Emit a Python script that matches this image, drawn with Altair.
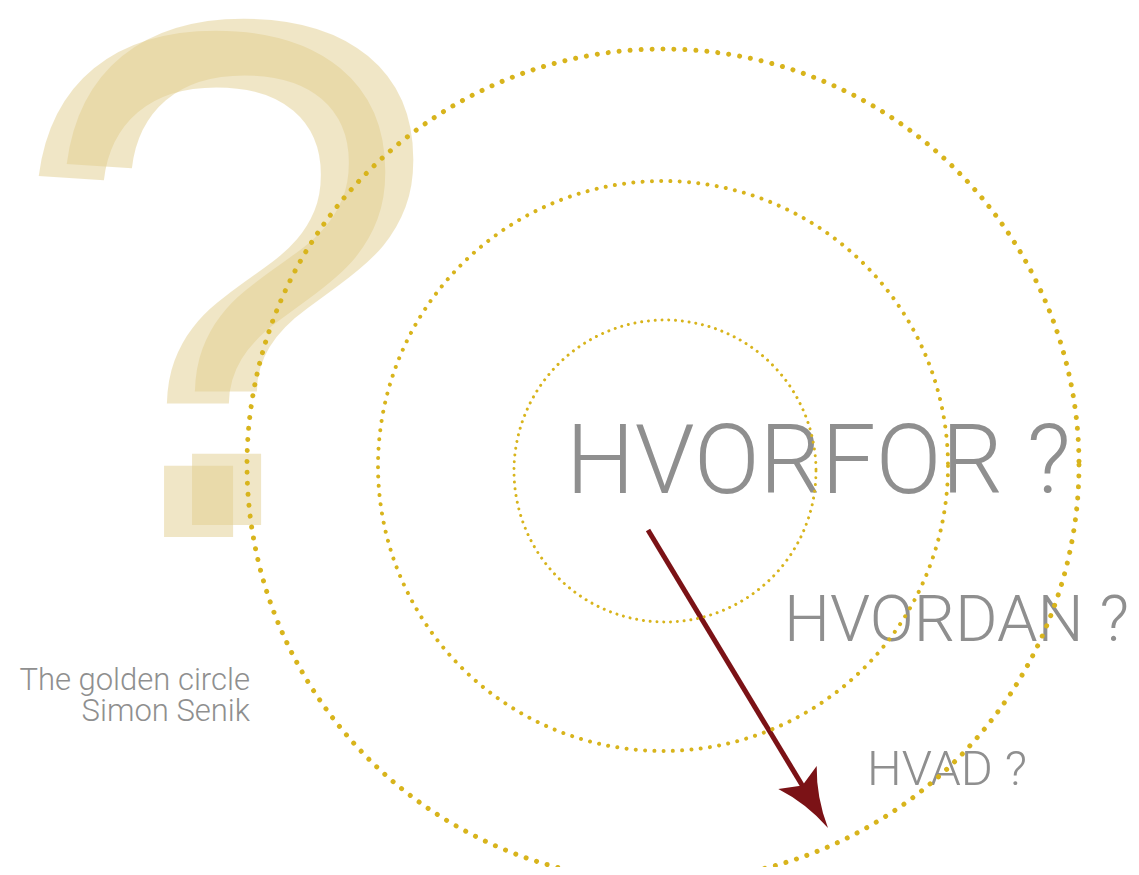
import math
import altair as alt
import pandas as pd

# ---- data ---------------------------------------------------------------
ring_names = ["HVORFOR", "HVORDAN", "HVAD"]
ring_cx = [2, 0, 0]
ring_cy = [-5, 0, 1]
ring_r = [151, 285, 416]

label_text = ["HVORFOR ?", "HVORDAN ?", "HVAD ?"]
label_x = [-97, 121, 204]
label_y = [-27, -175, -319]
label_size = [97, 65, 49]

credit_text = ["The golden circle", "Simon Senik"]
credit_x = [-413, -413]
credit_y = [-224, -255]

qmark_text = ["?", "?"]
qmark_x = [-654, -626]
qmark_y = [-71, -59]
qmark_size = [725, 725]

arrow_x = [-15, 165]
arrow_y = [-64, -362]

# ---- styles ---------------------------------------------------------------
W, H = 1123, 859
xs = alt.Scale(domain=[-655, 468], nice=False, zero=False)
ys = alt.Scale(domain=[-401, 458], nice=False, zero=False)
GOLD = "#d8b41c"
GREY = "#8f8f8f"
RED = "#7b1216"
ring_style = {"HVORFOR": (3, 6.8), "HVORDAN": (4, 9.3), "HVAD": (5, 11.0)}


def X(f):
    return alt.X(f, scale=xs, axis=None)


def Y(f):
    return alt.Y(f, scale=ys, axis=None)


rings = pd.DataFrame({"ring": ring_names, "cx": ring_cx, "cy": ring_cy, "r": ring_r})
labels = pd.DataFrame({"t": label_text, "x": label_x, "y": label_y, "s": label_size})
credits = pd.DataFrame({"t": credit_text, "x": credit_x, "y": credit_y})
qmarks = pd.DataFrame({"t": qmark_text, "x": qmark_x, "y": qmark_y, "s": qmark_size})
arrow = pd.DataFrame({"x1": [arrow_x[0]], "y1": [arrow_y[0]],
                      "x2": [arrow_x[1]], "y2": [arrow_y[1]]})
arrow_angle = math.degrees(math.atan2(arrow_x[1] - arrow_x[0], arrow_y[1] - arrow_y[0]))

layers = []

# big question marks
layers.append(
    alt.Chart(qmarks).mark_text(font="Liberation Sans", align="left", baseline="alphabetic",
                                color="#e3cf8f", opacity=0.5)
    .encode(x=X("x:Q"), y=Y("y:Q"), text="t:N", size=alt.Size("s:Q", scale=None, legend=None))
)

# labels
layers.append(
    alt.Chart(labels).mark_text(font="Roboto", fontWeight=300, align="left",
                                baseline="alphabetic", color=GREY)
    .encode(x=X("x:Q"), y=Y("y:Q"), text="t:N", size=alt.Size("s:Q", scale=None, legend=None))
)
layers.append(
    alt.Chart(credits).mark_text(font="Roboto", fontWeight=300, align="right",
                                 baseline="alphabetic", color=GREY, fontSize=31)
    .encode(x=X("x:Q"), y=Y("y:Q"), text="t:N")
)

# arrow
layers.append(
    alt.Chart(arrow)
    .transform_calculate(xe="datum.x1 + (datum.x2 - datum.x1) * 0.88",
                         ye="datum.y1 + (datum.y2 - datum.y1) * 0.88")
    .mark_rule(color=RED, strokeWidth=5, strokeCap="butt")
    .encode(x=X("x1:Q"), y=Y("y1:Q"), x2="xe:Q", y2="ye:Q")
)
layers.append(
    alt.Chart(arrow).mark_point(
        shape="M0,0 Q0.1,0.55 0.38,1 L0,0.84 L-0.38,1 Q-0.1,0.55 0,0 Z",
        filled=True, color=RED, opacity=1, size=13924, angle=arrow_angle, strokeWidth=0)
    .encode(x=X("x2:Q"), y=Y("y2:Q"))
)

# dotted rings (vega circle symbol: radius = sqrt(size)/2)
for name in ring_names:
    w, gap = ring_style[name]
    layers.append(
        alt.Chart(rings).transform_filter(alt.datum.ring == name)
        .transform_calculate(area="4*datum.r*datum.r")
        .mark_point(shape="circle", filled=False, color=GOLD, opacity=1,
                    strokeWidth=w, strokeDash=[0.01, gap], strokeCap="round")
        .encode(x=X("cx:Q"), y=Y("cy:Q"), size=alt.Size("area:Q", scale=None, legend=None))
    )

chart = (
    alt.layer(*layers)
    .properties(width=W, height=H, padding=0, autosize=alt.AutoSizeParams(type="none"),
                background="white")
    .configure_view(stroke=None)
)

chart.save("out.html", embed_options={"renderer": "svg", "actions": False})
